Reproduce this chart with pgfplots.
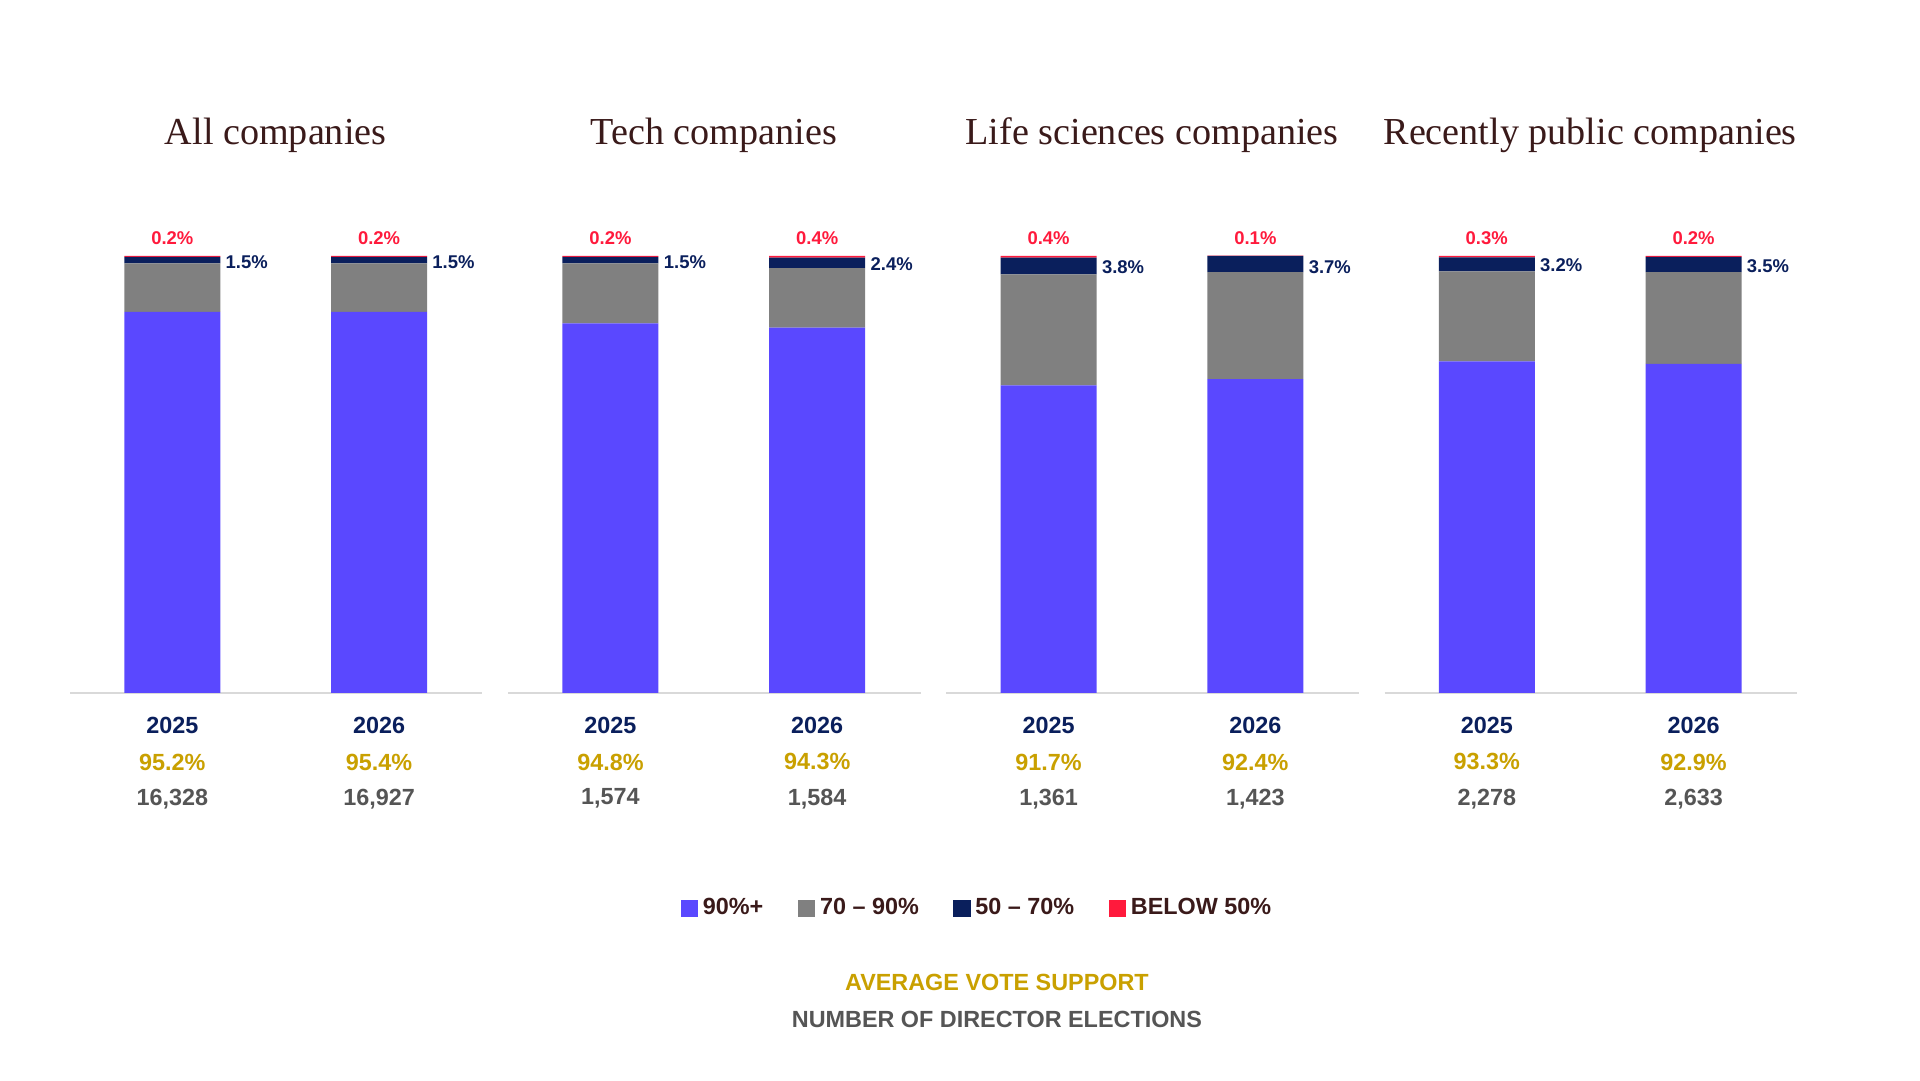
\documentclass[border=0pt]{standalone}
\usepackage{pgfplots}
\usepackage{pgfplotstable}
\pgfplotsset{compat=1.18}
\usepackage{fontspec}
\setmainfont{Liberation Sans}
\newfontfamily\titlefont{Liberation Serif}
\definecolor{cA}{HTML}{5A48FF}
\definecolor{cB}{HTML}{808080}
\definecolor{cC}{HTML}{0A1F5C}
\definecolor{cD}{HTML}{FF1A3C}
\definecolor{gold}{HTML}{C9A000}
\definecolor{gtxt}{HTML}{555555}
\definecolor{ttl}{HTML}{3A1A1A}
\pgfplotstableread[row sep=\\]{
x a b c d avg n\\
0 87.2 11.1 1.5 0.2 95.2 16,328\\
1 87.2 11.1 1.5 0.2 95.4 16,927\\
}\tA
\pgfplotstableread[row sep=\\]{
x a b c d avg n\\
0 84.6 13.7 1.5 0.2 94.8 1,574\\
1 83.6 13.6 2.4 0.4 94.3 1,584\\
}\tB
\pgfplotstableread[row sep=\\]{
x a b c d avg n\\
0 70.4 25.4 3.8 0.4 91.7 1,361\\
1 71.8 24.5 3.7 0.1 92.4 1,423\\
}\tC
\pgfplotstableread[row sep=\\]{
x a b c d avg n\\
0 75.9 20.6 3.2 0.3 93.3 2,278\\
1 75.3 21.0 3.5 0.2 92.9 2,633\\
}\tD
\newif\ifleg
\newcommand{\Panel}[4]{%
\begin{axis}[at={(#1*0.5pt,157.5pt)},anchor=south west,scale only axis,
 width=167.5pt,height=177.5pt,xmin=-0.494,xmax=1.5,ymin=0,ymax=100,
 axis lines=none,clip=false,ybar stacked,bar width=39pt,
 legend columns=4,legend image code/.code={\fill[##1] (0pt,-3.5pt) rectangle (7pt,3.5pt);},
 legend style={at={(rel axis cs:2.203,-0.493)},anchor=center,draw=none,fill=none,
 font=\bfseries\fontsize{9.5}{11}\selectfont,text=ttl,/tikz/every even column/.style={column sep=12pt}}]
\addplot[fill=cA,draw=none] table[x=x,y=a]{#3};\ifleg\addlegendentry{90\%+}\fi
\addplot[fill=cB,draw=none] table[x=x,y=b]{#3};\ifleg\addlegendentry{70 -- 90\%}\fi
\addplot[fill=cC,draw=none] table[x=x,y=c]{#3};\ifleg\addlegendentry{50 -- 70\%}\fi
\addplot[fill=cD,draw=none] table[x=x,y=d]{#3};\ifleg\addlegendentry{BELOW 50\%}\fi
\draw[black!15,line width=0.8pt] (axis cs:-0.494,0)--(axis cs:1.5,0);
\node[text=ttl,font=\titlefont\fontsize{15.5}{18}\selectfont] at (axis cs:0.5,127.6) {#2};
\pgfplotstableforeachcolumnelement{x}\of#3\as\xx{%
 \pgfplotstablegetelem{\pgfplotstablerow}{a}\of#3\let\va\pgfplotsretval
 \pgfplotstablegetelem{\pgfplotstablerow}{b}\of#3\let\vb\pgfplotsretval
 \pgfplotstablegetelem{\pgfplotstablerow}{c}\of#3\let\vc\pgfplotsretval
 \pgfplotstablegetelem{\pgfplotstablerow}{d}\of#3\let\vd\pgfplotsretval
 \pgfplotstablegetelem{\pgfplotstablerow}{avg}\of#3\let\vavg\pgfplotsretval
 \pgfplotstablegetelem{\pgfplotstablerow}{n}\of#3\let\vn\pgfplotsretval
 \pgfmathsetmacro\ya{\va/2}\pgfmathsetmacro\yb{\va+\vb/2}
 \pgfmathsetmacro\yc{100-\vc/2-0.6}\pgfmathsetmacro\xc{\xx+0.36}
 \edef\tmp{\noexpand\node[text=white,font=\noexpand\bfseries\noexpand\fontsize{8.5}{10}\noexpand\selectfont] at (axis cs:\xx,\ya) {\va\noexpand\%};
 \noexpand\node[text=white,font=\noexpand\bfseries\noexpand\fontsize{7.5}{9}\noexpand\selectfont] at (axis cs:\xx,\yb) {\vb\noexpand\%};
 \noexpand\node[text=cC,font=\noexpand\bfseries\noexpand\fontsize{7.5}{9}\noexpand\selectfont] at (axis cs:\xc,\yc) {\vc\noexpand\%};
 \noexpand\node[text=cD,font=\noexpand\bfseries\noexpand\fontsize{7.5}{9}\noexpand\selectfont] at (axis cs:\xx,104) {\vd\noexpand\%};
 \noexpand\node[text=cC,font=\noexpand\bfseries\noexpand\fontsize{9.5}{11}\noexpand\selectfont] at (axis cs:\xx,-7.4) {20\ifnum\pgfplotstablerow=0 25\else 26\fi};
 \noexpand\node[text=gold,font=\noexpand\bfseries\noexpand\fontsize{9.5}{11}\noexpand\selectfont] at (axis cs:\xx,-15.8) {\vavg\noexpand\%};
 \noexpand\node[text=gtxt,font=\noexpand\bfseries\noexpand\fontsize{9.5}{11}\noexpand\selectfont] at (axis cs:\xx,-24.2) {\vn};}%
 \tmp}
\end{axis}}
\begin{document}
\begin{tikzpicture}[x=1pt,y=1pt]
\path (0,0) rectangle (780,439);
\legtrue
\Panel{57}{All companies}{\tA}{}
\legfalse
\Panel{413}{Tech companies}{\tB}{}
\Panel{769}{Life sciences companies}{\tC}{}
\Panel{1125}{Recently public companies}{\tD}{}
\node[text=gold,font=\bfseries\fontsize{9.5}{11}\selectfont] at (405,440-400) {AVERAGE VOTE SUPPORT};
\node[text=gtxt,font=\bfseries\fontsize{9.5}{11}\selectfont] at (405,440-415) {NUMBER OF DIRECTOR ELECTIONS};
\end{tikzpicture}
\end{document}
